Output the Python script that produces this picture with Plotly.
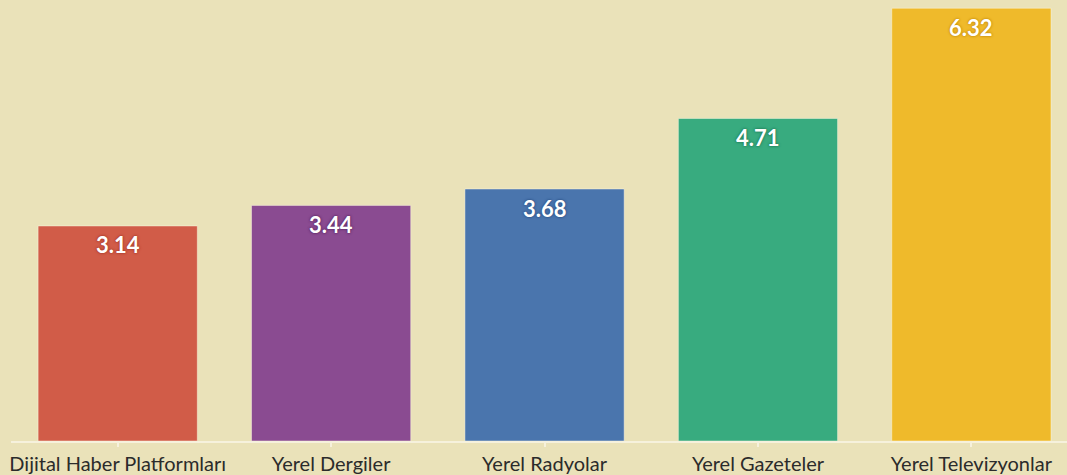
import plotly.graph_objects as go

categories = ["Dijital Haber Platformları", "Yerel Dergiler", "Yerel Radyolar", "Yerel Gazeteler", "Yerel Televizyonlar"]
values = [3.14, 3.44, 3.68, 4.71, 6.32]
colors = ["#D15C48", "#8A4B91", "#4A75AD", "#38AB7F", "#EFBA2B"]
glow = ["#A83A28", "#5E2A66", "#2C5288", "#1F7D58", "#C88E0E"]
labels = [f"{v:.2f}" for v in values]

fig = go.Figure()
for i, (c, v, col, g, lab) in enumerate(zip(categories, values, colors, glow, labels)):
    fig.add_trace(go.Bar(
        x=[i], y=[v],
        marker=dict(color=col, line=dict(color="rgba(255,250,230,0.45)", width=1)),
        width=0.746,
        showlegend=False,
        hoverinfo="skip",
    ))
    fig.add_annotation(
        x=i, y=v, text=lab, showarrow=False,
        yanchor="middle", yshift=-19,
        font=dict(family="Lato, Open Sans, sans-serif", size=22, color="white",
                  weight="bold", shadow=f"0px 0px 2px {g}, 0px 0px 3px {g}"),
    )

fig.update_layout(
    width=1067, height=475,
    margin=dict(l=11, r=0, t=0, b=34),
    paper_bgcolor="#EAE2B9", plot_bgcolor="#EAE2B9",
    bargap=0.254,
)
fig.update_xaxes(
    range=[-0.5, 4.448],
    tickmode="array", tickvals=list(range(len(categories))), ticktext=categories,
    showgrid=False, zeroline=False,
    showline=True, linecolor="#F6F1DC", linewidth=2,
    ticks="outside", ticklen=4, tickcolor="#F6F1DC", tickwidth=2,
    tickfont=dict(family="Lato, Open Sans, sans-serif", size=20, color="#2B2B2B"),
    automargin=False,
)
fig.update_yaxes(range=[0, 6.44], visible=False, showgrid=False, zeroline=False)

fig.write_html("out.html", config={"displayModeBar": False},
               post_script="document.body.style.margin='0';document.body.style.background='#EAE2B9';")
